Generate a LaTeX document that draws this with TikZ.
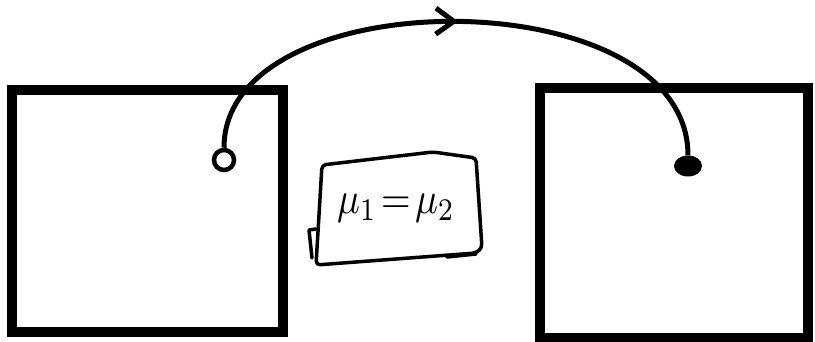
\documentclass[tikz,border=0pt]{standalone}
\usetikzlibrary{arrows.meta,decorations.markings,shapes.geometric}
\begin{document}
\begin{tikzpicture}[x=1pt,y=-1pt,
  box/.style={draw,line width=10pt,inner sep=0pt},
  opendot/.style={circle,draw,line width=4.5pt,minimum size=20pt,inner sep=0pt,fill=white},
  filldot/.style={ellipse,fill,minimum width=28pt,minimum height=21pt,inner sep=0pt},
  conn/.style={line width=5pt,postaction={decorate},
    decoration={markings,mark=at position 0.5 with {\arrow{Straight Barb[length=18pt,width=26pt]}}}},
  note/.style={line width=3.5pt,line join=round,line cap=round}
]
\useasboundingbox (0,0) rectangle (815,342);
\node[box,minimum width=271pt,minimum height=242pt] (L) at (147.5,211) {};
\node[box,minimum width=268pt,minimum height=250pt] (R) at (674,213) {};
\node[opendot] (a) at (224,160) {};
\node[filldot] (b) at (688,166) {};
\draw[conn] (a.north) .. controls (224,-22) and (688,-22) .. (b.north);
\draw[note,rounded corners=4pt] (322,165) -- (433,152) -- (476,158) -- (482,248) -- (476,253) -- (316,265) -- cycle;
\draw[note] (316,229) -- (309,230) -- (312,258);
\draw[note] (447,257) -- (476,254);
\node[inner sep=0pt] (M) at (396,208) {\scalebox{3.8}[4.5]{$\mu_1\!=\!\mu_2$}};
\end{tikzpicture}
\end{document}
